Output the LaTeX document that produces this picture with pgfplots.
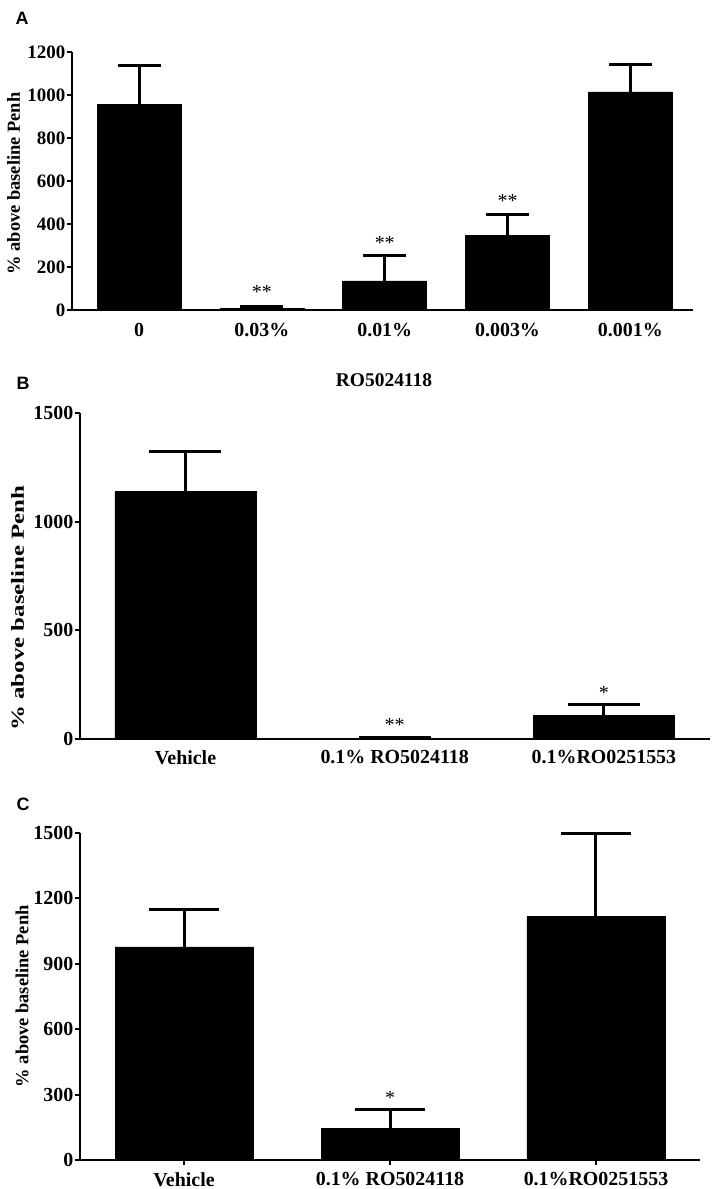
\documentclass[border=0pt]{standalone}
\usepackage{pgfplots}
\pgfplotsset{compat=1.18}
\usepackage{fontspec}
\setmainfont{Liberation Serif}
\newfontfamily\panelfont{Liberation Sans}
\begin{document}
\begin{tikzpicture}
\useasboundingbox (0bp,0bp) rectangle (715bp,1189bp);
\pgfplotsset{
  panel/.style={
    scale only axis,
    anchor=south west,
    axis x line=bottom, axis y line=left,
    axis line style={line width=2.5bp, -},
    tick style={line width=2bp, black},
    major tick length=5bp,
    tick align=outside,
    ymin=0,
    ybar,
    enlargelimits=false,
    clip=false,
    font=\bfseries\fontsize{20}{24}\selectfont,
    ticklabel style={inner sep=1.5bp},
    xtick={0,1,2,3,4},
    /pgf/number format/assume math mode=true,
    /pgf/number format/set thousands separator={},
    ylabel={\% above baseline Penh},
    ylabel style={font=\bfseries\fontsize{18.5}{22}\selectfont, anchor=center},
  },
  errbar/.style={
    fill=black, draw=black, line width=0.5bp,
    error bars/.cd, y dir=plus, y explicit,
    error bar style={line width=3bp, black},
    error mark options={rotate=90, line width=3bp, black, mark size=#1},
  },
}
% Panel A
\begin{axis}[panel,
  at={(72bp,879bp)}, width=621bp, height=258bp,
  xmin=-0.546, xmax=4.51, ymax=1200,
  ytick={0,200,400,600,800,1000,1200},
  bar width=84bp,
  major x tick style={draw=none},
  xticklabels={0,0.03\%,0.01\%,0.003\%,0.001\%},
  xticklabel style={yshift=-7bp},
  yticklabel style={font=\bfseries\fontsize{19}{22}\selectfont},
  ylabel style={at={(axis description cs:-0.094,0.49)}},
]
\addplot[errbar=21.5bp] table[x=x, y=y, y error=e] {
x y e
0 957 178
1 6 8
2 135 118
3 346 99
4 1015 125
};
\node[font=\mdseries\fontsize{20}{24}\selectfont, anchor=north] at (axis cs:1,132) {**};
\node[font=\mdseries\fontsize{20}{24}\selectfont, anchor=north] at (axis cs:2,360) {**};
\node[font=\mdseries\fontsize{20}{24}\selectfont, anchor=north] at (axis cs:3,553) {**};
\end{axis}
% Panel B
\begin{axis}[panel,
  at={(80bp,450bp)}, width=630bp, height=325.7bp,
  xmin=-0.504, xmax=2.507, ymax=1500,
  ytick={0,500,1000,1500},
  bar width=141bp,
  major x tick style={draw=none},
  xtick={0,1,2},
  xticklabels={Vehicle,0.1\% RO5024118,0.1\%RO0251553},
  xticklabel style={yshift=-5bp},
  ylabel={\scalebox{1.35}[1]{\% above baseline Penh}},
  ylabel style={at={(axis description cs:-0.099,0.402)}},
]
\addplot[errbar=36bp] table[x=x, y=y, y error=e] {
x y e
0 1139 184
1 3 5
2 110 47
};
\node[font=\mdseries\fontsize{20}{24}\selectfont, anchor=north] at (axis cs:1,110) {**};
\node[font=\mdseries\fontsize{20}{24}\selectfont, anchor=north] at (axis cs:2,256) {*};
\end{axis}
% Panel C
\begin{axis}[panel,
  at={(80bp,29bp)}, width=620bp, height=327.3bp,
  xmin=-0.505, xmax=2.505, ymax=1500,
  ytick={0,300,600,900,1200,1500},
  bar width=138bp,
  xtick={0,1,2},
  xticklabels={Vehicle,0.1\% RO5024118,0.1\%RO0251553},
  xticklabel style={yshift=-6bp},
  ylabel style={at={(axis description cs:-0.0935,0.5)}},
]
\addplot[errbar=35bp] table[x=x, y=y, y error=e] {
x y e
0 977 169
1 145 87
2 1118 379
};
\node[font=\mdseries\fontsize{20}{24}\selectfont, anchor=north] at (axis cs:1,330) {*};
\end{axis}
% panel letters and title
\node[font=\panelfont\bfseries\fontsize{18}{21}\selectfont] at (22bp,1170.5bp) {A};
\node[font=\panelfont\bfseries\fontsize{18}{21}\selectfont] at (23bp,806bp) {B};
\node[font=\panelfont\bfseries\fontsize{18}{21}\selectfont] at (23bp,385bp) {C};
\node[font=\bfseries\fontsize{19.5}{23}\selectfont] at (384bp,809bp) {RO5024118};
\end{tikzpicture}
\end{document}
